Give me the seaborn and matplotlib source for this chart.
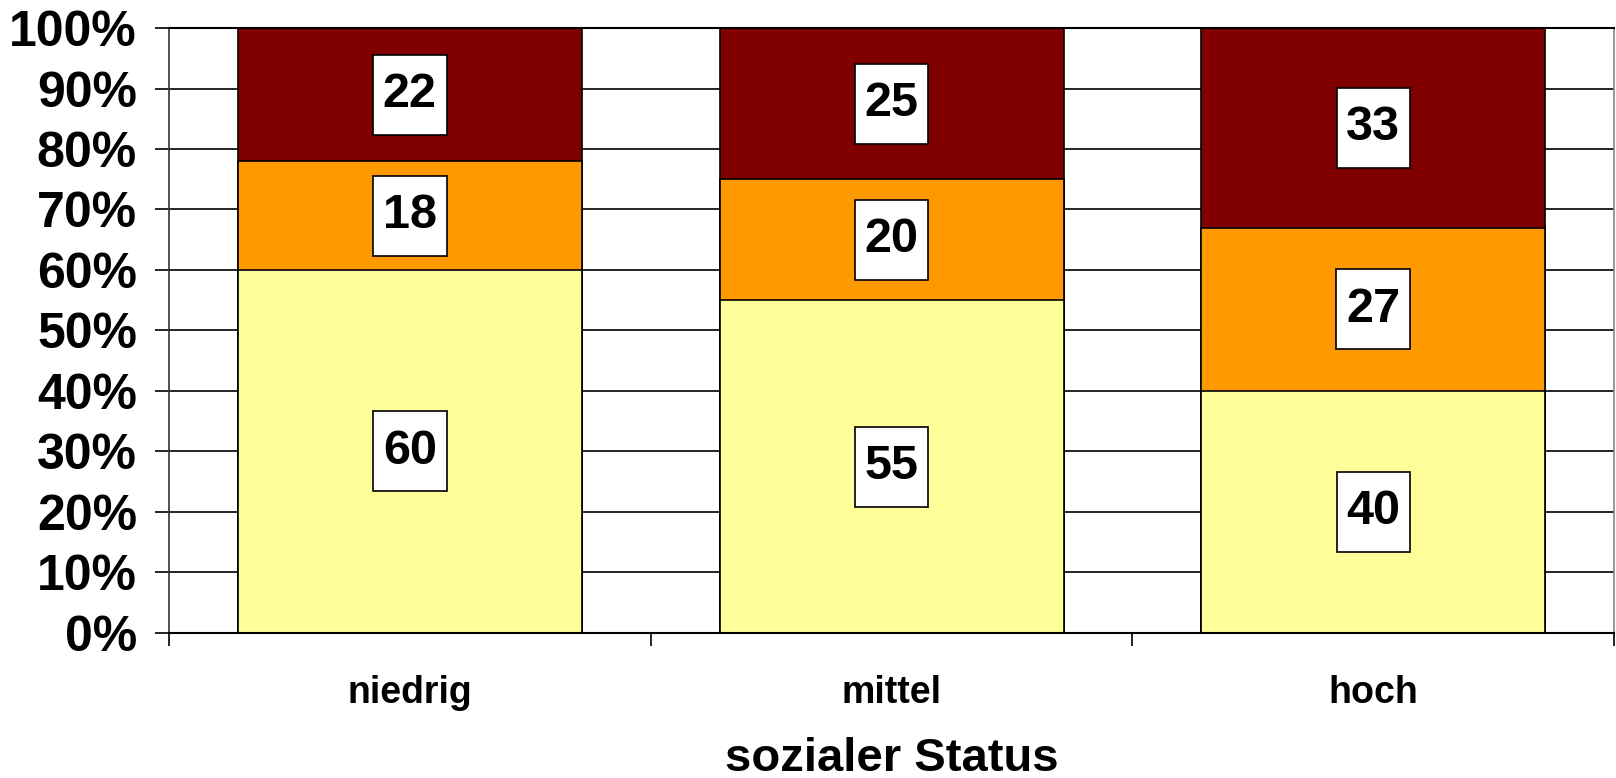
import numpy as np
import pandas as pd
import matplotlib
matplotlib.use("Agg")
import matplotlib.pyplot as plt
from matplotlib.path import Path
from matplotlib.ticker import FixedLocator, FuncFormatter
import seaborn as sns

# data (percent per status group)
status = ["niedrig", "mittel", "hoch"]
share_low = [60, 55, 40]
share_mid = [18, 20, 27]
share_high = [22, 25, 33]

colors = ["#FFFF99", "#FF9900", "#800000"]

sns.set_style("white")
plt.rcParams['font.family'] = ['Liberation Sans', 'DejaVu Sans']
plt.rcParams['font.weight'] = 'bold'
plt.rcParams['text.color'] = 'black'
plt.rcParams['xtick.color'] = 'black'
plt.rcParams['ytick.color'] = 'black'
plt.rcParams['axes.labelcolor'] = 'black'

df = pd.DataFrame({"status": status, "low": share_low, "mid": share_mid, "high": share_high})
df["c1"] = df["low"]
df["c2"] = df["low"] + df["mid"]
df["c3"] = df["low"] + df["mid"] + df["high"]

fig = plt.figure(figsize=(16.16, 7.78), dpi=100)
ax = fig.add_axes([0.1046, 0.1864, 0.8942, 0.7776])

# stacked bars: draw cumulative totals from top to bottom
for col, c in zip(["c3", "c2", "c1"], colors[::-1]):
    sns.barplot(data=df, x="status", y=col, color=c, width=0.714,
                edgecolor="black", linewidth=1.2, saturation=1, ax=ax, zorder=2)


def label_box(x0, y0, width, height, mutation_size):
    # Excel-like label frame: taller than wide padding
    px = 0.2 * mutation_size
    py = 0.36 * mutation_size
    x0, y0 = x0 - px, y0 - py
    x1, y1 = x0 + width + 2 * px, y0 + height + 2 * py
    return Path([(x0, y0), (x1, y0), (x1, y1), (x0, y1), (x0, y0)], closed=True)


# value labels in the middle of each segment
for i in range(len(df)):
    bottoms = [0, df["c1"][i], df["c2"][i]]
    vals = [df["low"][i], df["mid"][i], df["high"][i]]
    for b, v in zip(bottoms, vals):
        ax.text(i, b + v / 2, f"{v}", ha="center", va="center", fontsize=35,
                fontweight="bold", color="black", zorder=5,
                bbox=dict(boxstyle=label_box, facecolor="white",
                          edgecolor="black", linewidth=1.2))

ax.set_ylim(0, 100)
ax.set_xlim(-0.5, 2.5)
ax.set_yticks(np.arange(0, 101, 10))
ax.yaxis.set_major_formatter(FuncFormatter(lambda v, p: f"{int(v)}%"))
ax.yaxis.grid(True, color="black", linewidth=1.2)
ax.set_axisbelow(True)

ax.tick_params(axis="y", labelsize=36, length=10, width=1.2, color="black",
               labelcolor="black", direction="out", left=True, pad=13)
ax.tick_params(axis="x", which="major", labelsize=27, length=0, pad=30,
               labelcolor="black")
ax.xaxis.set_minor_locator(FixedLocator([-0.5, 0.5, 1.5, 2.5]))
ax.tick_params(axis="x", which="minor", length=9, width=1.2, color="black",
               direction="out", bottom=True)
for lab in ax.get_yticklabels() + ax.get_xticklabels():
    lab.set_fontweight("bold")

ax.set_xlabel("sozialer Status", fontsize=34, fontweight="bold", labelpad=19,
              color="black")
ax.set_ylabel("")

ax.spines["left"].set_color("#333333")
ax.spines["left"].set_linewidth(1.2)
ax.spines["right"].set_color("#888888")
ax.spines["right"].set_linewidth(1.2)
ax.spines["top"].set_color("black")
ax.spines["top"].set_linewidth(1.5)
ax.spines["bottom"].set_color("black")
ax.spines["bottom"].set_linewidth(1.5)

plt.savefig("out.png", dpi=100)
